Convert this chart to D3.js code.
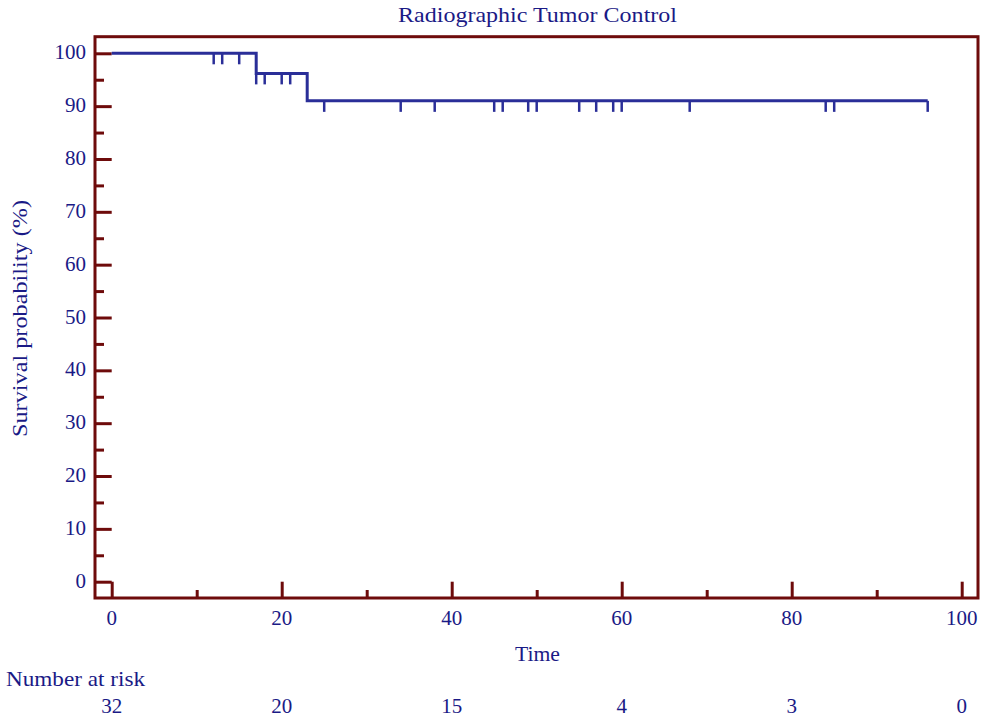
<!DOCTYPE html>
<html><head><meta charset="utf-8">
<script src="https://cdn.jsdelivr.net/npm/d3@7"></script>
<style>
html,body{margin:0;padding:0;background:#fff;}
svg{display:block;}
text{font-family:"Liberation Serif","Times New Roman",serif;fill:#1a1a86;}
</style></head>
<body>
<svg id="c" width="987" height="718"></svg>
<script>
const stepTimes = [0, 17, 23, 96];
const stepSurvival = [100, 96.2, 91.0, 91.0];
const censorTimes = [12, 13, 15, 17, 18, 20, 21, 25, 34, 38, 45, 46, 49, 50, 55, 57, 59, 60, 68, 84, 85, 96];
const xTicks = [0, 20, 40, 60, 80, 100];
const yTicks = [0, 10, 20, 30, 40, 50, 60, 70, 80, 90, 100];
const riskTimes = [0, 20, 40, 60, 80, 100];
const riskCounts = [32, 20, 15, 4, 3, 0];

const svg = d3.select("#c");
const frameL = 95, frameR = 978, frameT = 36.7, frameB = 598;
const x = d3.scaleLinear().domain([0, 100]).range([111.7, 961.7]);
const y = d3.scaleLinear().domain([0, 100]).range([581.7, 53.3]);
const frameColor = "#6e0b0b", curveColor = "#2a2e98";

// frame
svg.append("rect").attr("x", frameL).attr("y", frameT)
  .attr("width", frameR - frameL).attr("height", frameB - frameT)
  .attr("fill", "none").attr("stroke", frameColor).attr("stroke-width", 3);

// y axis ticks (inside, from left frame)
const yMinor = d3.range(5, 100, 10);
const gy = svg.append("g").attr("transform", `translate(${frameL},0)`);
gy.call(d3.axisRight(y).tickValues(yTicks).tickSize(x(0) - frameL).tickFormat(""));
gy.append("g").call(d3.axisRight(y).tickValues(yMinor).tickSize(9).tickFormat(""));
gy.selectAll("path.domain").remove();
gy.selectAll("line").attr("stroke", frameColor).attr("stroke-width", 3);

// x axis ticks (inside, from bottom frame upward)
const xMinor = d3.range(10, 100, 20);
const gx = svg.append("g").attr("transform", `translate(0,${frameB})`);
gx.call(d3.axisTop(x).tickValues(xTicks).tickSize(frameB - y(0)).tickFormat(""));
gx.append("g").call(d3.axisTop(x).tickValues(xMinor).tickSize(8).tickFormat(""));
gx.selectAll("path.domain").remove();
gx.selectAll("line").attr("stroke", frameColor).attr("stroke-width", 3);

// tick labels
svg.append("g").selectAll("text").data(yTicks).join("text")
  .attr("x", 86).attr("y", d => y(d) + 6)
  .attr("text-anchor", "end").attr("font-size", 21).text(d => d);
svg.append("g").selectAll("text").data(xTicks).join("text")
  .attr("x", d => x(d)).attr("y", 625)
  .attr("text-anchor", "middle").attr("font-size", 21).text(d => d);

// titles
svg.append("text").attr("x", 537.5).attr("y", 22).attr("text-anchor", "middle")
  .attr("font-size", 22).attr("textLength", 279).attr("lengthAdjust", "spacingAndGlyphs")
  .text("Radiographic Tumor Control");
svg.append("text").attr("x", 537.5).attr("y", 661).attr("text-anchor", "middle")
  .attr("font-size", 22).attr("textLength", 45).attr("lengthAdjust", "spacingAndGlyphs").text("Time");
svg.append("text").attr("transform", "translate(27,318.5) rotate(-90)")
  .attr("text-anchor", "middle").attr("font-size", 22)
  .attr("textLength", 237).attr("lengthAdjust", "spacingAndGlyphs").text("Survival probability (%)");

// number at risk
svg.append("text").attr("x", 6).attr("y", 685.5).attr("font-size", 22)
  .attr("textLength", 139).attr("lengthAdjust", "spacingAndGlyphs").text("Number at risk");
svg.append("g").selectAll("text").data(riskCounts).join("text")
  .attr("x", (d, i) => x(riskTimes[i])).attr("y", 713)
  .attr("text-anchor", "middle").attr("font-size", 21).text(d => d);

// survival curve
const pts = stepTimes.map((t, i) => [t, stepSurvival[i]]);
svg.append("path").datum(pts)
  .attr("d", d3.line().x(d => x(d[0])).y(d => y(d[1])).curve(d3.curveStepAfter))
  .attr("fill", "none").attr("stroke", curveColor).attr("stroke-width", 3);

function survAt(t) {
  let s = stepSurvival[0];
  for (let i = 0; i < stepTimes.length; i++) if (t >= stepTimes[i]) s = stepSurvival[i];
  return s;
}
svg.append("g").selectAll("line").data(censorTimes).join("line")
  .attr("x1", d => x(d)).attr("x2", d => x(d))
  .attr("y1", d => y(survAt(d))).attr("y2", d => y(survAt(d)) + 11)
  .attr("stroke", curveColor).attr("stroke-width", 2.5);
</script>
</body></html>
